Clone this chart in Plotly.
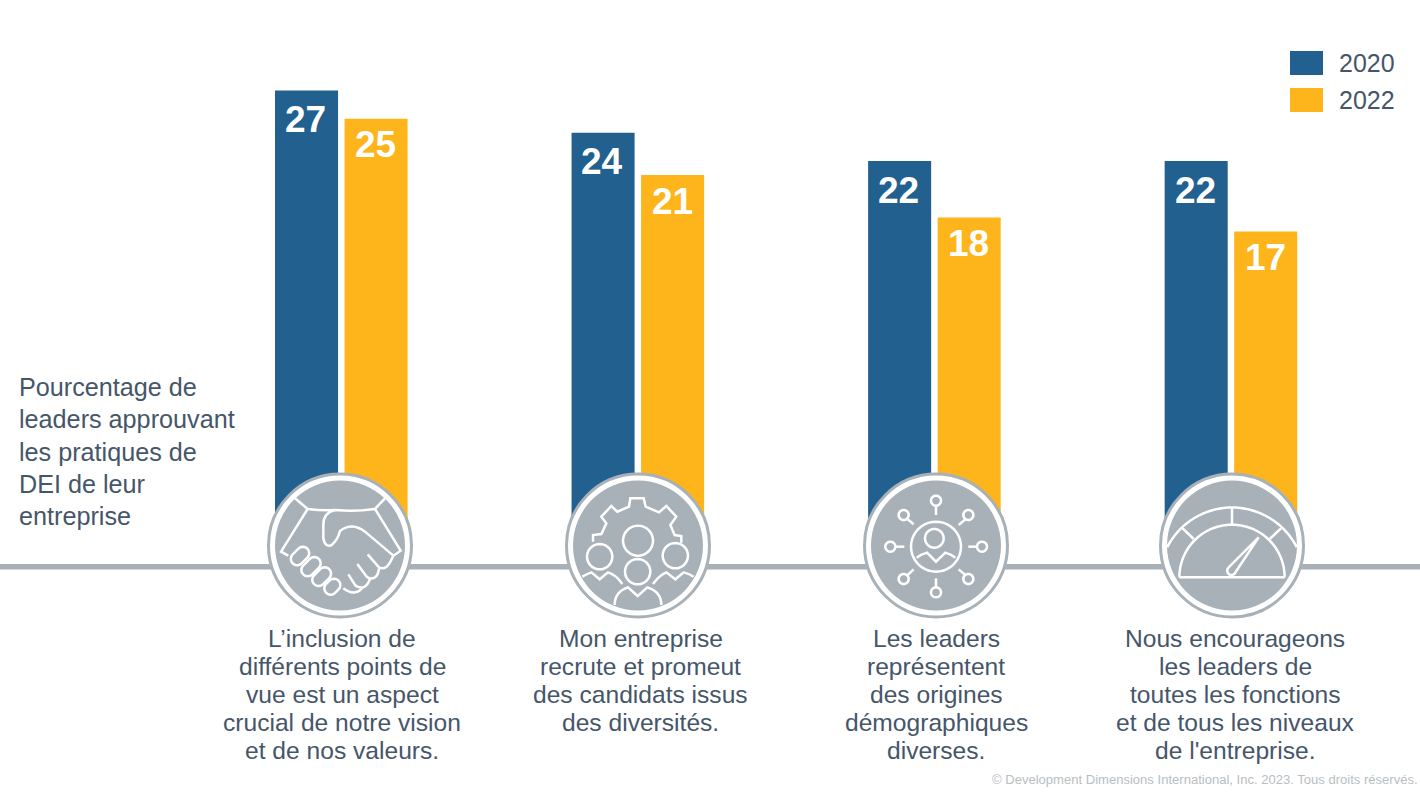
import math
import re
import plotly.graph_objects as go

W, H = 1420, 795

# ---------- data ----------
label_lines = [
    ["L’inclusion de", "différents points de", "vue est un aspect", "crucial de notre vision", "et de nos valeurs."],
    ["Mon entreprise", "recrute et promeut", "des candidats issus", "des diversités."],
    ["Les leaders", "représentent", "des origines", "démographiques", "diverses."],
    ["Nous encourageons", "les leaders de", "toutes les fonctions", "et de tous les niveaux", "de l'entreprise."],
]
categories = [" ".join(l) for l in label_lines]
values_2020 = [27, 24, 22, 22]
values_2022 = [25, 21, 18, 17]
series_names = ["2020", "2022"]
side_label = ["Pourcentage de", "leaders approuvant", "les pratiques de", "DEI de leur", "entreprise"]
footer = "© Development Dimensions International, Inc. 2023. Tous droits réservés."

BLUE, YELLOW = "#21608f", "#fdb51b"
GREY, TEXT = "#a8b0b8", "#46566a"
FONT = "Liberation Sans, Arial, sans-serif"

# the bars are cut off by the icon band: they stand on this floor value
FLOOR = -6.72
Y_RANGE = [-22.97, 33.42]
X_RANGE = [-1.1509, 3.6375]

def px(x): return x / W
def py(y): return 1 - y / H

def conv(path, ox, oy):
    """Icon paths are written in 3x local units; map them to paper coordinates."""
    out, is_x = [], True
    for tok in re.findall(r"[A-Za-z]|-?\d+\.?\d*", path):
        if tok.isalpha():
            out.append(tok); is_x = True
        else:
            v = float(tok)
            if is_x:
                out.append(f"{px(ox + v / 3):.5f},")
            else:
                out.append(f"{py(oy + v / 3):.5f} ")
            is_x = not is_x
    return "".join(out)

def arc(cx, cy, r, a0, a1, n=48):
    pts = [(cx + r * math.cos(math.radians(a0 + (a1 - a0) * i / n)),
            cy - r * math.sin(math.radians(a0 + (a1 - a0) * i / n))) for i in range(n + 1)]
    return "M" + " L".join(f"{x:.1f} {y:.1f}" for x, y in pts)

def circ(cx, cy, r):
    return arc(cx, cy, r, 0, 360, 40) + " Z"

def capsule(cx, cy, length, r, ang):
    a = math.radians(ang)
    ux, uy = math.cos(a), -math.sin(a)
    pts = []
    for sgn, start in ((1, -90), (-1, 90)):
        ex, ey = cx + sgn * ux * length / 2, cy + sgn * uy * length / 2
        for i in range(13):
            t = math.radians(ang + start + 180 * i / 12)
            pts.append((ex + r * math.cos(t), ey - r * math.sin(t)))
    return "M" + " L".join(f"{x:.1f} {y:.1f}" for x, y in pts) + " Z"

icon_hand = [
    "M120 115 L158 147 L78 275 L100 287",
    "M390 115 L360 147 L437 272 L415 287",
    "M158 147 Q200 152 240 150",
    "M360 147 Q300 156 240 150 Q205 158 205 195 L205 235 Q210 264 230 255 Q248 240 255 213 Q290 185 330 215 L415 287",
    "M415 287 Q405 310 395 320 Q380 330 370 320 L338 283",
    "M372 325 Q370 345 360 352 Q345 360 335 350 L307 312",
    "M345 355 Q340 375 325 382 Q310 385 300 375 L280 343",
    "M322 382 Q315 395 300 397 Q285 400 265 385",
    capsule(135, 288, 24, 19, 45), capsule(168, 320, 28, 19, 45),
    capsule(200, 350, 26, 19, 45), capsule(232, 380, 14, 19, 45),
]
icon_gear = [
    "M120 245 L120 225 L145 222 L160 190 L145 170 L175 138 L193 155 L228 140 L232 115 L272 115 L278 140 L318 157 "
    "L340 138 L370 170 L352 195 L365 225 L385 228 L385 248",
    circ(255, 242, 45), circ(140, 290, 38), circ(367, 287, 38), circ(254, 335, 38),
    "M88 350 Q105 340 115 337 L140 358 L165 337 Q190 345 208 372",
    "M300 372 Q320 345 340 337 L367 358 L392 337 Q410 342 422 350",
    "M185 435 Q185 395 225 382 L254 408 L283 382 Q325 395 325 435",
]
icon_net = [
    circ(255, 260, 75), circ(250, 235, 28),
    "M197 293 Q210 283 228 278 L255 305 L283 278 Q300 283 313 293",
    circ(255, 122, 15), "M255 140 L255 165",
    circ(158, 165, 15), "M170 178 L188 193",
    circ(352, 165, 15), "M343 178 L323 195",
    circ(118, 260, 15), "M135 260 L160 260",
    circ(393, 260, 15), "M352 260 L377 260",
    circ(158, 357, 15), "M170 345 L188 328",
    circ(352, 357, 15), "M323 328 L343 345",
    circ(255, 397, 15), "M255 355 L255 382",
]
icon_gauge = [
    arc(255, 352, 158, 0, 180),
    "M97 352 L413 352",
    arc(255, 360.5, 218, 27, 153),
    "M255 142 L255 195", "M107 205 L140 237", "M402 205 L368 237",
    "M335 232 L262 342 Q248 350 242 338 Q238 328 245 322 Z",
]
icons = [(255, icon_hand), (553, icon_gear), (851, icon_net), (1147, icon_gauge)]

shapes = [dict(type="rect", xref="paper", yref="paper", x0=0, x1=1, y0=py(569.5), y1=py(564),
               fillcolor=GREY, line_width=0, layer="above")]

for ox, parts in icons:
    cx, cy = ox + 85, 460 + 85.5
    shapes.append(dict(type="circle", xref="paper", yref="paper", x0=px(cx - 71.5), x1=px(cx + 71.5),
                       y0=py(cy + 71.5), y1=py(cy - 71.5), fillcolor="white",
                       line=dict(color=GREY, width=3), layer="above"))
    shapes.append(dict(type="circle", xref="paper", yref="paper", x0=px(cx - 65), x1=px(cx + 65),
                       y0=py(cy + 65), y1=py(cy - 65), fillcolor=GREY, line_width=0, layer="above"))
    for p in parts:
        shapes.append(dict(type="path", xref="paper", yref="paper", path=conv(p, ox, 460),
                           line=dict(color="white", width=2.5), layer="above"))

# legend swatches
for (y0, y1), c in zip([(51, 75), (88, 112)], [BLUE, YELLOW]):
    shapes.append(dict(type="rect", xref="paper", yref="paper", x0=px(1290), x1=px(1323),
                       y0=py(y1), y1=py(y0), fillcolor=c, line_width=0))

annotations = []

def txt(x, y, s, size, color=TEXT, anchor="center", **kw):
    annotations.append(dict(xref="paper", yref="paper", x=px(x), y=py(y), text=s, showarrow=False,
                            xanchor=anchor, yanchor="middle", font=dict(family=FONT, size=size, color=color), **kw))

for name, y in zip(series_names, (63, 100)):
    txt(1337, y, name, 25, anchor="left")

for i, line in enumerate(side_label):
    txt(17, 387 + i * 32.3, line, 25.2, anchor="left")

for cx, lines in zip((342, 640.5, 936, 1235), label_lines):
    for j, line in enumerate(lines):
        txt(cx, 638 + j * 28, line, 24.6)

txt(1420, 779, footer, 13.06, color="#b9bec3", anchor="right")

# value labels, anchored on the bars through the axes
for vals, shift, drop in ((values_2020, -35.5, 29), (values_2022, 34.5, 26)):
    for cat, v in zip(categories, vals):
        annotations.append(dict(xref="x", yref="y", x=cat, y=v, text=f"<b>{v}</b>", showarrow=False,
                                xshift=shift, yshift=-drop, xanchor="center", yanchor="middle",
                                font=dict(family=FONT, size=37, color="white")))

fig = go.Figure()
for name, vals, color in zip(series_names, (values_2020, values_2022), (BLUE, YELLOW)):
    fig.add_bar(name=name, x=categories, y=[v - FLOOR for v in vals], base=FLOOR,
                marker=dict(color=color, line_width=0), hoverinfo="skip")

fig.update_layout(
    width=W, height=H, margin=dict(l=0, r=0, t=0, b=0), paper_bgcolor="white", plot_bgcolor="white",
    barmode="group", bargap=0.531, bargroupgap=0.0935, showlegend=False,
    xaxis=dict(visible=False, range=X_RANGE, type="category", categoryorder="array", categoryarray=categories),
    yaxis=dict(visible=False, range=Y_RANGE),
    shapes=shapes, annotations=annotations, font=dict(family=FONT),
)
fig.write_html("out.html", config={"displayModeBar": False},
               post_script="document.body.style.margin='0';document.documentElement.style.overflow='hidden';")
